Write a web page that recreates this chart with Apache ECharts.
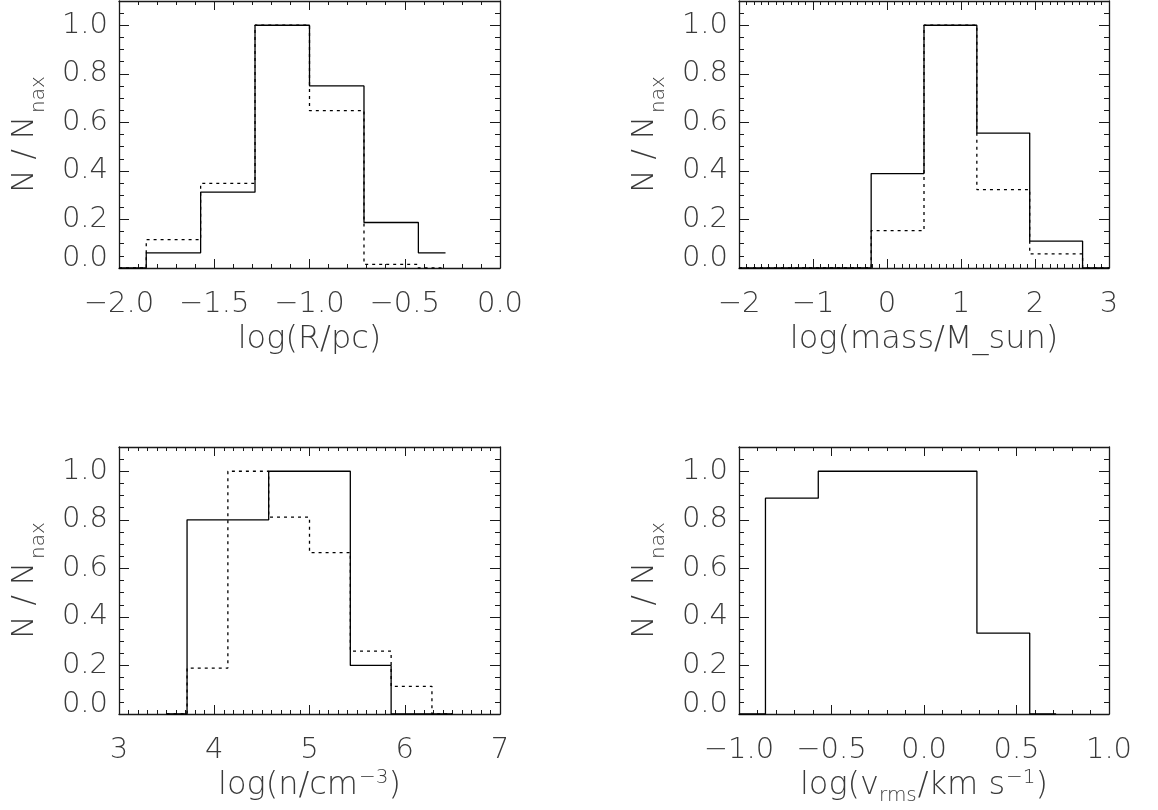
<!DOCTYPE html>
<html><head><meta charset="utf-8">
<script src="https://cdn.jsdelivr.net/npm/echarts@6/dist/echarts.min.js"></script>
<style>html,body{margin:0;padding:0;background:#fff}#c{width:1158px;height:810px}</style>
</head><body><div id="c"></div>
<script>
// ---- Panel 1: log(R/pc) ----
const rX = [-2.0, -1.714, -1.429, -1.143, -0.857, -0.571, -0.286];
const rSolid = [0, 0.0625, 0.3125, 1.0, 0.75, 0.1875, 0.0625];
const rDotted = [0, 0.117, 0.349, 1.0, 0.648, 0.015, 0];
const rTicks = ['\u22122.0', '\u22121.5', '\u22121.0', '\u22120.5', '0.0'];
// ---- Panel 2: log(mass/M_sun) ----
const mX = [-2.0, -1.286, -0.571, 0.143, 0.857, 1.571, 2.286, 3.0];
const mSolid = [0, 0, 0, 0.389, 1.0, 0.556, 0.111, 0];
const mDotted = [0, 0, 0, 0.154, 1.0, 0.323, 0.058, 0];
const mTicks = ['\u22122', '\u22121', '0', '1', '2', '3'];
// ---- Panel 3: log(n/cm^-3) ----
const nX = [3.5, 3.929, 4.357, 4.786, 5.214, 5.643, 6.071, 6.5];
const nSolid = [0, 0.8, 0.8, 1.0, 1.0, 0.2, 0, 0];
const nDotted = [0, 0.189, 1.0, 0.811, 0.665, 0.259, 0.114, 0];
const nTicks = ['3', '4', '5', '6', '7'];
// ---- Panel 4: log(v_rms/km s^-1) ----
const vX = [-1.0, -0.714, -0.429, -0.143, 0.143, 0.429, 0.714];
const vSolid = [0, 0.889, 1.0, 1.0, 1.0, 0.333, 0];
const vTicks = ['\u22121.0', '\u22120.5', '0.0', '0.5', '1.0'];
// ---- shared y ticks ----
const yTicks = ['0.0', '0.2', '0.4', '0.6', '0.8', '1.0'];

const FONT = 'DejaVu Sans';
const FW = 200;
const TXT = '#3a3a3a';
const LINE = '#1a1a1a';

const grids = [
  {left: 119, top: 1, width: 381, height: 267},
  {left: 739, top: 1, width: 370, height: 267},
  {left: 119, top: 447, width: 381, height: 267},
  {left: 739, top: 447, width: 370, height: 267}
];

const tstyle = (fs, extra) => Object.assign({fontSize: fs, fontFamily: FONT, fontWeight: FW, color: TXT}, extra || {});

function xAxes(gi, min, max, major, minorSplit, ticks, name, rich) {
  const lab = v => {
    const i = Math.round((v - min) / major);
    if (Math.abs(v - (min + i * major)) > 1e-6 || i < 0 || i >= ticks.length) return '';
    return ticks[i];
  };
  const common = {
    gridIndex: gi, type: 'value', min: min, max: max, interval: major,
    axisLine: {show: true, onZero: false, lineStyle: {color: LINE, width: 1.3}},
    axisTick: {show: true, inside: true, length: 9, lineStyle: {color: LINE, width: 1}},
    minorTick: {show: true, splitNumber: minorSplit, length: 4, lineStyle: {color: LINE, width: 1}},
    splitLine: {show: false}, minorSplitLine: {show: false}
  };
  return [
    Object.assign({}, common, {
      position: 'bottom',
      axisLabel: Object.assign(tstyle(29), {formatter: lab, margin: 22, showMinLabel: true, showMaxLabel: true, hideOverlap: false}),
      name: name, nameLocation: 'middle', nameGap: 52,
      nameTextStyle: tstyle(32, {lineHeight: 40, rich: rich})
    }),
    Object.assign({}, common, {position: 'top', axisLabel: {show: false}})
  ];
}

const yRich = {z: tstyle(29, {padding: [0, 0, 20, 0]})};
function yLab(v) {
  const i = Math.round(v / 0.2);
  if (Math.abs(v - i * 0.2) > 1e-6 || i < 0 || i >= yTicks.length) return '';
  return i === 0 ? '{z|' + yTicks[0] + '}' : yTicks[i];
}
const yNameRich = {
  a: tstyle(31, {lineHeight: 40, verticalAlign: 'top'}),
  sl: tstyle(31, {lineHeight: 40, verticalAlign: 'top', padding: [0, 10, 0, 10]}),
  s: tstyle(20, {lineHeight: 22, verticalAlign: 'bottom', padding: [26, 0, 0, 3]})
};
function yAxes(gi) {
  const base = {gridIndex: gi, type: 'value', min: 0, max: 1.1, splitLine: {show: false}};
  return [
    Object.assign({}, base, {
      position: 'left', interval: 0.2,
      axisLine: {show: true, onZero: false, lineStyle: {color: LINE, width: 1.3}},
      axisTick: {show: true, inside: true, length: 10, lineStyle: {color: LINE, width: 1}},
      axisLabel: Object.assign(tstyle(29), {formatter: yLab, margin: 11, rich: yRich, showMaxLabel: false}),
      name: '{a|N}{sl|/}{a|N}{s|nax}', nameLocation: 'middle', nameRotate: 90, nameGap: 70,
      nameTextStyle: tstyle(31, {rich: yNameRich})
    }),
    Object.assign({}, base, {
      position: 'left', interval: 0.05,
      axisLine: {show: false, onZero: false},
      axisTick: {show: true, inside: true, length: 5, lineStyle: {color: LINE, width: 1}},
      axisLabel: {show: false}
    }),
    Object.assign({}, base, {
      position: 'right', interval: 0.2,
      axisLine: {show: true, onZero: false, lineStyle: {color: LINE, width: 1.3}},
      axisTick: {show: true, inside: true, length: 10, lineStyle: {color: LINE, width: 1}},
      axisLabel: {show: false}
    }),
    Object.assign({}, base, {
      position: 'right', interval: 0.05,
      axisLine: {show: false, onZero: false},
      axisTick: {show: true, inside: true, length: 5, lineStyle: {color: LINE, width: 1}},
      axisLabel: {show: false}
    })
  ];
}

const xRich = {
  t: tstyle(32, {lineHeight: 40, verticalAlign: 'middle'}),
  sup: tstyle(20, {lineHeight: 20, verticalAlign: 'top', padding: [2, 0, 0, 1]}),
  sub: tstyle(20, {lineHeight: 20, verticalAlign: 'bottom', padding: [0, 1, 0, 0]})
};

const xAxis = [].concat(
  xAxes(0, -2, 0, 0.5, 5, rTicks, 'log(R/pc)', xRich),
  xAxes(1, -2, 3, 1, 10, mTicks, 'log(mass/M_sun)', xRich),
  xAxes(2, 3, 7, 1, 10, nTicks, '{t|log(n/cm}{sup|\u22123}{t|)}', xRich),
  xAxes(3, -1, 1, 0.5, 5, vTicks, '{t|log(v}{sub|rms}{t|/km s}{sup|\u22121}{t|)}', xRich)
);
const yAxis = [].concat(yAxes(0), yAxes(1), yAxes(2), yAxes(3));

function step(gi, xs, ys, dotted) {
  return {
    type: 'line', xAxisIndex: gi * 2, yAxisIndex: gi * 4,
    data: xs.map((x, i) => [x, ys[i]]),
    step: 'middle', symbol: 'none', silent: true, clip: false,
    z: dotted ? 3 : 4,
    lineStyle: {color: '#000', width: 1.3, type: dotted ? [3, 4] : 'solid'}
  };
}

const chart = echarts.init(document.getElementById('c'), null, {renderer: 'canvas'});
chart.setOption({
  animation: false,
  backgroundColor: '#ffffff',
  grid: grids,
  xAxis: xAxis,
  yAxis: yAxis,
  series: [
    step(0, rX, rDotted, true), step(0, rX, rSolid, false),
    step(1, mX, mDotted, true), step(1, mX, mSolid, false),
    step(2, nX, nDotted, true), step(2, nX, nSolid, false),
    step(3, vX, vSolid, false)
  ]
});
</script>
</body></html>
